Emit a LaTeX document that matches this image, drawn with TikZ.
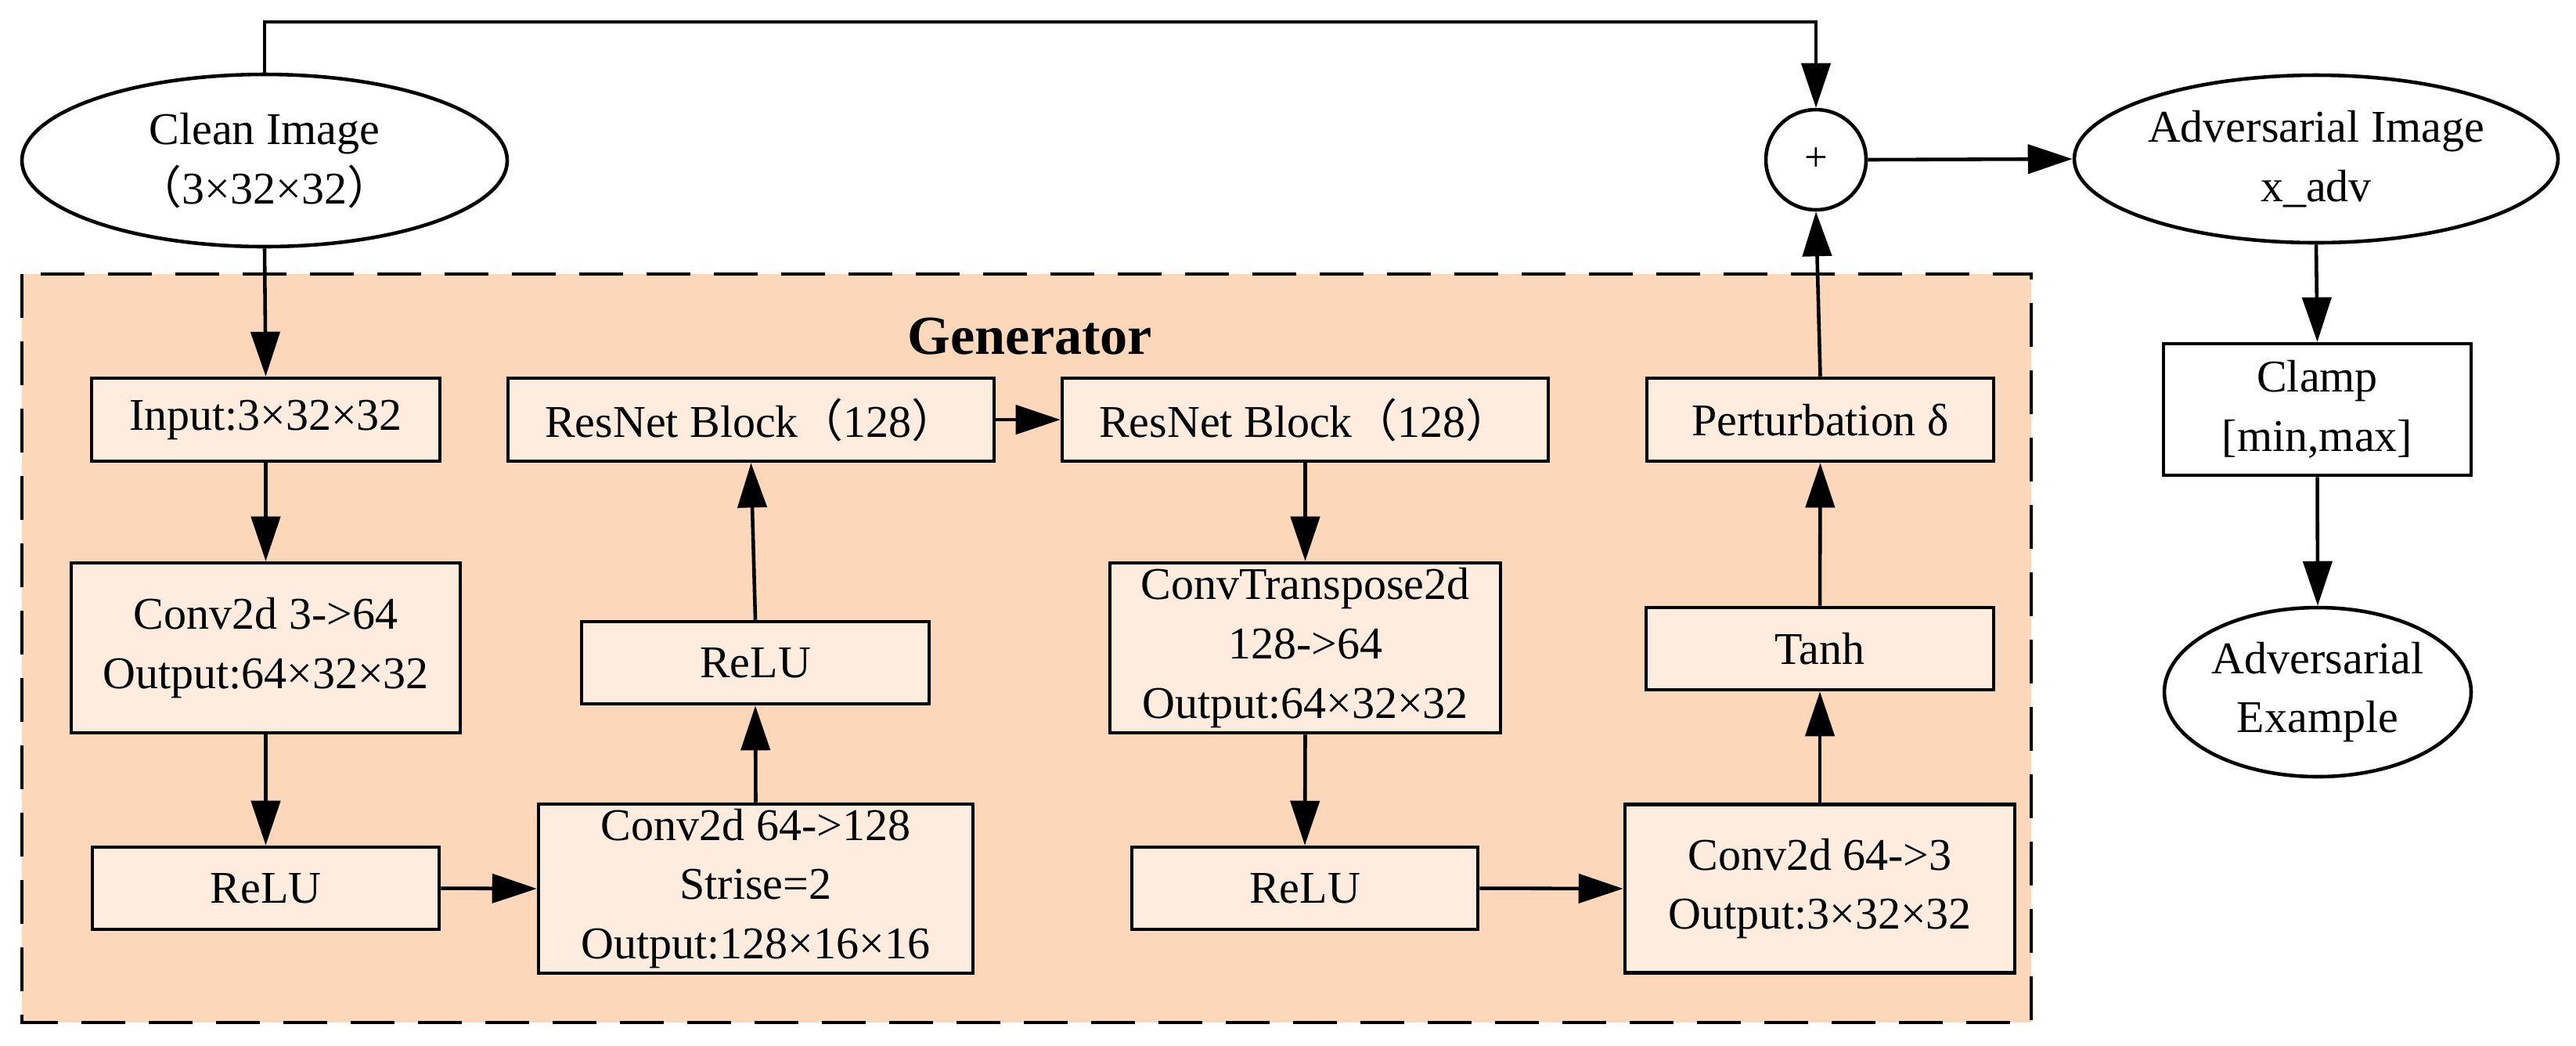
\documentclass[tikz,border=0pt]{standalone}
\usepackage{fontspec}
\setmainfont{Liberation Serif}
\newfontfamily\cjk{Noto Sans CJK SC}
\usepackage{xcolor}
\usepackage{tikz}
\usetikzlibrary{arrows.meta,shapes.geometric}
\definecolor{genfill}{RGB}{252,215,185}
\definecolor{layerfill}{RGB}{254,236,222}
\newcommand{\fwl}{{\cjk （}}
\newcommand{\fwr}{{\cjk ）}}

\begin{document}
\begin{tikzpicture}[line join=miter,>={Triangle[length=5.7mm,width=3.7mm]},
  layer/.style={draw,line width=1.3pt,fill=layerfill,inner sep=0pt,align=center,
    font=\fontsize{16.5}{21.5}\selectfont},
  oval/.style={draw,ellipse,line width=1.3pt,fill=white,inner sep=0pt,align=center,
    font=\fontsize{16.5}{21.5}\selectfont},
  link/.style={->,line width=1.3pt}]
  \useasboundingbox (0,0) rectangle (32.91,-13.35);
  \draw[fill=genfill,line width=1.3pt,dash pattern=on 5.6mm off 3mm] (0.28,-3.50) rectangle (25.95,-13.06);
  \node[font=\bfseries\fontsize{20}{24}\selectfont] (gen) at (13.16,-4.30) {Generator};
  \node[oval,minimum width=6.20cm,minimum height=2.20cm] (clean) at (3.38,-2.05) {Clean Image\\\fwl 3×32×32\fwr};
  \node[draw,circle,line width=1.3pt,fill=white,minimum size=1.28cm,inner sep=0pt,font=\fontsize{15}{15}\selectfont] (plus) at (23.20,-2.04) {+};
  \node[oval,minimum width=6.18cm,minimum height=2.14cm] (advimg) at (29.59,-2.03) {Adversarial Image\\x\_adv};
  \node[layer,fill=white,minimum width=3.93cm,minimum height=1.68cm] (clamp) at (29.605,-5.23) {Clamp\\{[min,max]}};
  \node[oval,minimum width=3.92cm,minimum height=2.16cm] (advex) at (29.61,-8.84) {Adversarial\\Example};
  \node[layer,minimum width=4.45cm,minimum height=1.06cm] (inp) at (3.395,-5.36) {Input:3×32×32};
  \node[layer,minimum width=6.21cm,minimum height=1.06cm] (res1) at (9.595,-5.36) {ResNet Block\fwl 128\fwr};
  \node[layer,minimum width=6.21cm,minimum height=1.06cm] (res2) at (16.675,-5.36) {ResNet Block\fwl 128\fwr};
  \node[layer,minimum width=4.43cm,minimum height=1.06cm] (pert) at (23.255,-5.36) {Perturbation δ};
  \node[layer,minimum width=4.97cm,minimum height=2.17cm] (conv1) at (3.395,-8.275) {Conv2d 3->64\\Output:64×32×32};
  \node[layer,minimum width=4.44cm,minimum height=1.05cm] (relu2) at (9.65,-8.465) {ReLU};
  \node[layer,minimum width=4.99cm,minimum height=2.17cm] (convt) at (16.675,-8.275) {ConvTranspose2d\\128->64\\Output:64×32×32};
  \node[layer,minimum width=4.44cm,minimum height=1.05cm] (tanh) at (23.25,-8.285) {Tanh};
  \node[layer,minimum width=4.43cm,minimum height=1.05cm] (relu1) at (3.395,-11.345) {ReLU};
  \node[layer,minimum width=5.55cm,minimum height=2.16cm] (conv2) at (9.655,-11.35) {Conv2d 64->128\\Strise=2\\Output:128×16×16};
  \node[layer,minimum width=4.42cm,minimum height=1.05cm] (relu3) at (16.67,-11.345) {ReLU};
  \node[layer,minimum width=4.98cm,minimum height=2.15cm] (conv3) at (23.25,-11.35) {Conv2d 64->3\\Output:3×32×32};
  \coordinate (topbar) at (3.38,-0.28);
  \draw[link] (clean.north) -- (clean.north |- topbar) -| (plus.north);
  \draw[link] (clean.south) -- (inp.north);
  \draw[link] (inp.south) -- (conv1.north);
  \draw[link] (conv1.south) -- (relu1.north);
  \draw[link] (relu1.east) -- (conv2.west);
  \draw[link] (conv2.north) -- (relu2.south);
  \draw[link] (relu2.north) -- (res1.south);
  \draw[link] (res1.east) -- (res2.west);
  \draw[link] (res2.south) -- (convt.north);
  \draw[link] (convt.south) -- (relu3.north);
  \draw[link] (relu3.east) -- (conv3.west);
  \draw[link] (conv3.north) -- (tanh.south);
  \draw[link] (tanh.north) -- (pert.south);
  \draw[link] (pert.north) -- (plus.south);
  \draw[link] (plus.east) -- (advimg.west);
  \draw[link] (advimg.south) -- (clamp.north);
  \draw[link] (clamp.south) -- (advex.north);
\end{tikzpicture}
\end{document}
